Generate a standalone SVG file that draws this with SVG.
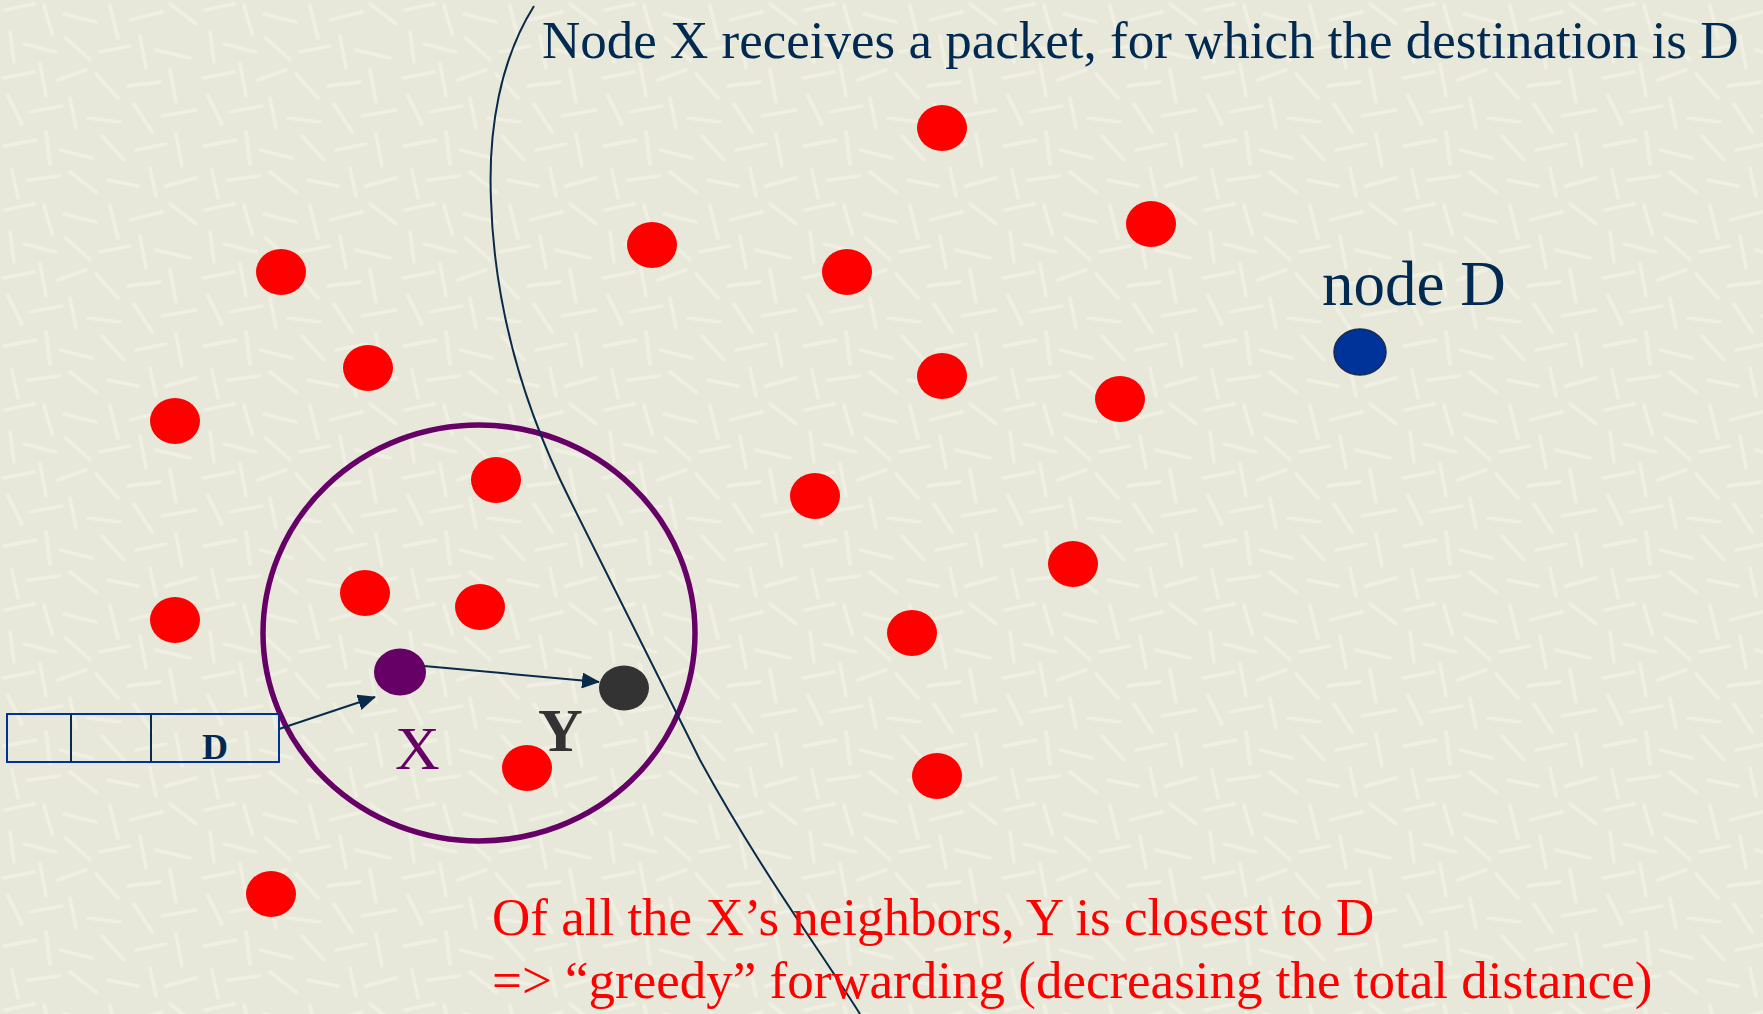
<svg xmlns="http://www.w3.org/2000/svg" width="1763" height="1014" viewBox="0 0 1763 1014">
  <defs>
    <pattern id="tex" width="200" height="200" patternUnits="userSpaceOnUse">
      <rect width="200" height="200" fill="#E8E8DA"/>
      <g stroke="#F2F2E5" stroke-width="3.5" stroke-linecap="round" opacity="0.8">
        <line x1="5" y1="10" x2="34" y2="4"/>
        <line x1="44" y1="5" x2="52" y2="34"/>
        <line x1="64" y1="14" x2="96" y2="22"/>
        <line x1="110" y1="6" x2="118" y2="38"/>
        <line x1="130" y1="20" x2="162" y2="12"/>
        <line x1="170" y1="4" x2="196" y2="24"/>
        <line x1="10" y1="32" x2="14" y2="62"/>
        <line x1="24" y1="44" x2="56" y2="52"/>
        <line x1="66" y1="38" x2="90" y2="60"/>
        <line x1="100" y1="52" x2="130" y2="46"/>
        <line x1="140" y1="36" x2="146" y2="68"/>
        <line x1="156" y1="50" x2="190" y2="58"/>
        <line x1="3" y1="78" x2="34" y2="72"/>
        <line x1="40" y1="64" x2="46" y2="96"/>
        <line x1="58" y1="80" x2="86" y2="70"/>
        <line x1="96" y1="74" x2="118" y2="98"/>
        <line x1="128" y1="86" x2="160" y2="82"/>
        <line x1="170" y1="70" x2="176" y2="102"/>
        <line x1="8" y1="96" x2="22" y2="124"/>
        <line x1="30" y1="112" x2="62" y2="106"/>
        <line x1="70" y1="98" x2="76" y2="128"/>
        <line x1="88" y1="118" x2="120" y2="122"/>
        <line x1="134" y1="104" x2="152" y2="132"/>
        <line x1="162" y1="116" x2="196" y2="110"/>
        <line x1="4" y1="146" x2="36" y2="140"/>
        <line x1="46" y1="132" x2="50" y2="164"/>
        <line x1="60" y1="150" x2="92" y2="158"/>
        <line x1="102" y1="136" x2="124" y2="160"/>
        <line x1="136" y1="150" x2="166" y2="144"/>
        <line x1="176" y1="134" x2="182" y2="166"/>
        <line x1="12" y1="170" x2="18" y2="198"/>
        <line x1="28" y1="180" x2="60" y2="176"/>
        <line x1="70" y1="172" x2="96" y2="192"/>
        <line x1="108" y1="180" x2="138" y2="186"/>
        <line x1="150" y1="168" x2="156" y2="196"/>
        <line x1="166" y1="186" x2="196" y2="178"/>
      </g>
    </pattern>
    <marker id="ah" markerUnits="userSpaceOnUse" markerWidth="18" markerHeight="16" refX="17" refY="8" orient="auto">
      <path d="M0,0 L18,8 L0,16 Z" fill="#0A2A4A"/>
    </marker>
    <style>
      .red { fill: #FF0000; }
      .serif { font-family: "Liberation Serif", "Times New Roman", serif; }
      .conn { stroke: #0A2A4A; stroke-width: 2; fill: none; }
    </style>
  </defs>

  <rect id="background" x="0" y="0" width="1763" height="1014" fill="url(#tex)"/>

  <g id="range-circle">
    <ellipse cx="479" cy="633" rx="216" ry="208" fill="none" stroke="#660066" stroke-width="5.5"/>
  </g>

  <g id="boundary-curve">
    <path d="M 534 6 C 500 60, 488 130, 491 200 C 494 300, 520 400, 570 500 C 610 580, 650 660, 700 760 C 760 870, 820 950, 860 1014" fill="none" stroke="#0A2A4A" stroke-width="2"/>
  </g>

  <g id="red-nodes">
    <ellipse class="red" cx="942" cy="128" rx="25" ry="23"/>
    <ellipse class="red" cx="1151" cy="224" rx="25" ry="23"/>
    <ellipse class="red" cx="652" cy="245" rx="25" ry="23"/>
    <ellipse class="red" cx="847" cy="272" rx="25" ry="23"/>
    <ellipse class="red" cx="281" cy="272" rx="25" ry="23"/>
    <ellipse class="red" cx="368" cy="368" rx="25" ry="23"/>
    <ellipse class="red" cx="942" cy="376" rx="25" ry="23"/>
    <ellipse class="red" cx="1120" cy="399" rx="25" ry="23"/>
    <ellipse class="red" cx="175" cy="421" rx="25" ry="23"/>
    <ellipse class="red" cx="496" cy="480" rx="25" ry="23"/>
    <ellipse class="red" cx="815" cy="496" rx="25" ry="23"/>
    <ellipse class="red" cx="1073" cy="564" rx="25" ry="23"/>
    <ellipse class="red" cx="365" cy="593" rx="25" ry="23"/>
    <ellipse class="red" cx="480" cy="607" rx="25" ry="23"/>
    <ellipse class="red" cx="175" cy="620" rx="25" ry="23"/>
    <ellipse class="red" cx="912" cy="633" rx="25" ry="23"/>
    <ellipse class="red" cx="527" cy="768" rx="25" ry="23"/>
    <ellipse class="red" cx="937" cy="776" rx="25" ry="23"/>
    <ellipse class="red" cx="271" cy="894" rx="25" ry="23"/>
  </g>

  <g id="node-D">
    <ellipse cx="1360" cy="352" rx="26" ry="23" fill="#003399" stroke="#1A2A4A" stroke-width="1.5"/>
    <text class="serif" x="1322" y="305" font-size="63" fill="#012A52">node D</text>
  </g>

  <g id="node-X">
    <ellipse cx="400" cy="672" rx="26" ry="23.5" fill="#660066"/>
    <text class="serif" x="395" y="769" font-size="62" fill="#660066">X</text>
  </g>

  <g id="node-Y">
    <ellipse cx="624" cy="688" rx="25" ry="22.5" fill="#333333"/>
    <text class="serif" x="538" y="751" font-size="62" font-weight="bold" fill="#333333">Y</text>
  </g>

  <g id="packet">
    <rect x="7" y="714" width="272" height="48" fill="none" stroke="#003399" stroke-width="2"/>
    <line x1="71" y1="714" x2="71" y2="762" stroke="#0A2A4A" stroke-width="2"/>
    <line x1="151" y1="714" x2="151" y2="762" stroke="#0A2A4A" stroke-width="2"/>
    <text class="serif" x="202" y="759" font-size="36" font-weight="bold" fill="#012A52">D</text>
  </g>

  <g id="connectors">
    <line class="conn" x1="279" y1="729" x2="375" y2="697" marker-end="url(#ah)"/>
    <line class="conn" x1="424" y1="666" x2="599" y2="682" marker-end="url(#ah)"/>
  </g>

  <g id="captions">
    <text class="serif" x="542" y="58" font-size="53" fill="#012A52">Node X receives a packet, for which the destination is D</text>
    <text class="serif" x="492" y="935" font-size="53" fill="#FF0000">Of all the X’s neighbors, Y is closest to D</text>
    <text class="serif" x="492" y="998" font-size="53" fill="#FF0000">=&gt; “greedy” forwarding (decreasing the total distance)</text>
  </g>
</svg>
